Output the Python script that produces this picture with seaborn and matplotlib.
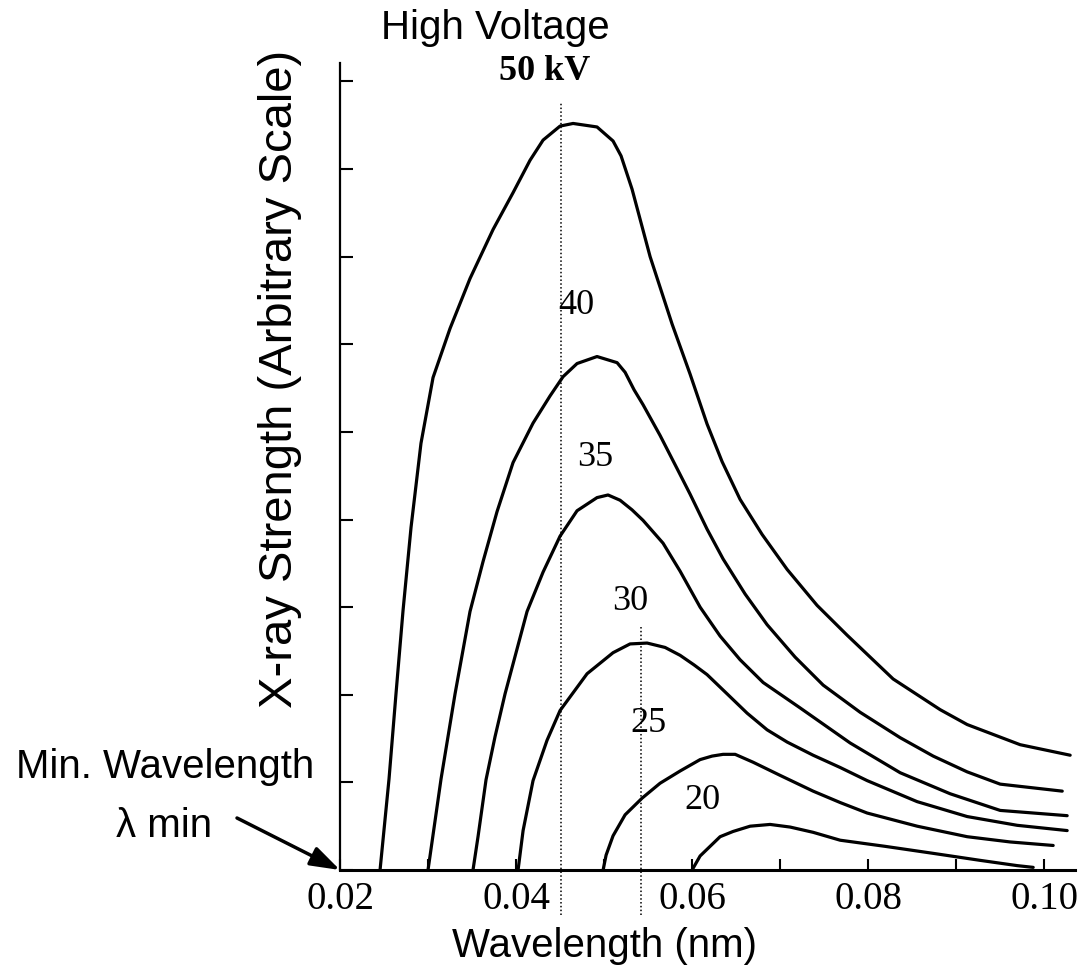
import numpy as np
import pandas as pd
import seaborn as sns
import matplotlib.pyplot as plt

# wavelength (nm) / intensity (arbitrary units)
wl_50 = [0.02455, 0.02557, 0.02636, 0.02716, 0.02807, 0.02920, 0.03057, 0.03250, 0.03477, 0.03739,
         0.03966, 0.04159, 0.04307, 0.04500, 0.04648, 0.04920, 0.05102, 0.05193, 0.05318, 0.05523,
         0.05773, 0.05977, 0.06170, 0.06341, 0.06545, 0.06795, 0.07080, 0.07420, 0.07761, 0.08284,
         0.08818, 0.09125, 0.09727, 0.10295]
int_50 = [0.00, 1.04, 2.01, 2.96, 3.91, 4.87, 5.62, 6.18, 6.75, 7.31,
          7.73, 8.10, 8.33, 8.49, 8.52, 8.48, 8.32, 8.15, 7.77, 7.00,
          6.23, 5.66, 5.09, 4.66, 4.23, 3.83, 3.43, 3.02, 2.68, 2.18,
          1.83, 1.66, 1.43, 1.31]

wl_40 = [0.03000, 0.03148, 0.03307, 0.03477, 0.03625, 0.03784, 0.03966, 0.04193, 0.04386, 0.04534,
         0.04693, 0.04920, 0.05148, 0.05239, 0.05341, 0.05443, 0.05636, 0.05830, 0.05977, 0.06170,
         0.06352, 0.06602, 0.06852, 0.07170, 0.07489, 0.07909, 0.08364, 0.08739, 0.09125, 0.09500,
         0.10205]
int_40 = [0.00, 1.04, 2.01, 2.95, 3.52, 4.09, 4.65, 5.10, 5.41, 5.63,
          5.78, 5.86, 5.79, 5.68, 5.48, 5.31, 4.96, 4.58, 4.29, 3.89,
          3.55, 3.15, 2.80, 2.43, 2.11, 1.80, 1.51, 1.30, 1.12, 0.98,
          0.90]

wl_35 = [0.03511, 0.03568, 0.03659, 0.03761, 0.03875, 0.04125, 0.04307, 0.04500, 0.04693, 0.04920,
         0.05045, 0.05182, 0.05318, 0.05443, 0.05670, 0.05864, 0.06091, 0.06318, 0.06545, 0.06807,
         0.07227, 0.07795, 0.08364, 0.08932, 0.09500, 0.10261]
int_35 = [0.00, 0.38, 1.03, 1.52, 2.01, 2.95, 3.40, 3.81, 4.10, 4.25,
          4.28, 4.22, 4.11, 3.99, 3.73, 3.41, 3.00, 2.67, 2.40, 2.14,
          1.85, 1.45, 1.11, 0.87, 0.68, 0.62]

wl_30 = [0.04023, 0.04080, 0.04193, 0.04352, 0.04500, 0.04807, 0.05102, 0.05295, 0.05489, 0.05693,
         0.05864, 0.06023, 0.06170, 0.06398, 0.06625, 0.06852, 0.07080, 0.07375, 0.07682, 0.07989,
         0.08557, 0.09125, 0.09693, 0.10261]
int_30 = [0.00, 0.45, 1.02, 1.48, 1.82, 2.24, 2.48, 2.58, 2.59, 2.54,
          2.45, 2.34, 2.23, 2.01, 1.79, 1.60, 1.46, 1.31, 1.17, 1.02,
          0.78, 0.61, 0.51, 0.45]

wl_25 = [0.04989, 0.05023, 0.05102, 0.05239, 0.05432, 0.05636, 0.05864, 0.06091, 0.06227, 0.06352,
         0.06489, 0.06693, 0.07000, 0.07375, 0.07682, 0.07989, 0.08557, 0.09125, 0.09614, 0.10102]
int_25 = [0.00, 0.17, 0.39, 0.63, 0.82, 0.99, 1.13, 1.26, 1.30, 1.32,
          1.32, 1.23, 1.08, 0.90, 0.77, 0.65, 0.50, 0.38, 0.32, 0.28]

wl_20 = [0.06000, 0.06091, 0.06318, 0.06466, 0.06659, 0.06886, 0.07114, 0.07375, 0.07682, 0.08193,
         0.08739, 0.09273, 0.09693, 0.09875]
int_20 = [0.00, 0.16, 0.38, 0.44, 0.50, 0.52, 0.49, 0.43, 0.34, 0.27,
          0.19, 0.11, 0.05, 0.03]

voltages = [50, 40, 35, 30, 25, 20]
curve_labels = ['50 kV', '40', '35', '30', '25', '20']
x_ticks = [0.02, 0.03, 0.04, 0.05, 0.06, 0.07, 0.08, 0.09, 0.10]
x_ticklabels = ['0.02', '', '0.04', '', '0.06', '', '0.08', '', '0.10']
peak_marks = [0.0451, 0.0542]   # dotted guide lines
peak_tops = [8.76, 2.79]

curves = {50: (wl_50, int_50), 40: (wl_40, int_40), 35: (wl_35, int_35),
          30: (wl_30, int_30), 25: (wl_25, int_25), 20: (wl_20, int_20)}
df = pd.concat([pd.DataFrame({'kv': kv, 'wl': w, 'intensity': i}) for kv, (w, i) in curves.items()])

sns.set_theme(style='white')
plt.rcParams['font.family'] = ['Liberation Sans', 'DejaVu Sans']
plt.rcParams['text.color'] = 'black'
plt.rcParams['xtick.color'] = 'black'

W, H = 1083, 965
fig = plt.figure(figsize=(W / 100, H / 100), dpi=100)
ax = fig.add_axes([340 / W, 1 - 870 / H, (1075 - 340) / W, (870 - 63) / H])

sns.lineplot(data=df, x='wl', y='intensity', units='kv', estimator=None, sort=False,
             color='black', lw=2.3, ax=ax, legend=False)
for line in ax.lines:
    line.set_solid_joinstyle('round')
    line.set_solid_capstyle('round')

for xm, top in zip(peak_marks, peak_tops):
    ax.plot([xm, xm], [-0.51, top], color='black', lw=1.1, ls=(0, (1, 1.5)), clip_on=False)

ax.set_xlim(0.02, 0.1035)
ax.set_ylim(0, 9.21)
sns.despine(ax=ax)
ax.spines['left'].set_linewidth(1.6)
ax.spines['bottom'].set_linewidth(2.2)
ax.spines['left'].set_color('black')
ax.spines['bottom'].set_color('black')

ax.set_xticks(x_ticks)
ax.set_xticklabels(x_ticklabels, family='Liberation Serif', fontsize=28)
ax.set_yticks(range(10))
ax.set_yticklabels([])
ax.tick_params(axis='x', direction='in', length=8, width=1.5, color='black', pad=8, bottom=True)
ax.tick_params(axis='y', direction='in', length=9, width=1.5, color='black', left=True)
ax.set_xlabel('')
ax.set_ylabel('')

# curve labels (serif, like the original)
label_pos = [(0.04330, 9.11), (0.04682, 6.44), (0.04898, 4.71), (0.05295, 3.07), (0.05500, 1.67), (0.06114, 0.79)]
for lab, (lx, ly) in zip(curve_labels, label_pos):
    ax.text(lx, ly, lab, family='Liberation Serif', fontsize=26,
            fontweight='bold' if 'kV' in lab else 'normal', ha='center', va='center', clip_on=False)

fig.text(495 / W, 1 - 28 / H, 'High Voltage', fontsize=29, ha='center', va='center')
fig.text(605 / W, 1 - 946 / H, 'Wavelength (nm)', fontsize=29, ha='center', va='center')
fig.text(280 / W, 1 - 379 / H, 'X-ray Strength (Arbitrary Scale)', fontsize=34,
         rotation=90, ha='center', va='center')
fig.text(165 / W, 1 - 767 / H, 'Min. Wavelength', fontsize=29, ha='center', va='center')
fig.text(164 / W, 1 - 826 / H, 'λ min', fontsize=29, ha='center', va='center')

ax.annotate('', xy=(0.02, 0), xycoords='data', xytext=(237, H - 818), textcoords='figure pixels',
            arrowprops=dict(arrowstyle='-|>,head_length=0.9,head_width=0.3', color='black', lw=2.5,
                            mutation_scale=20, shrinkA=0, shrinkB=0))

fig.savefig('out.png', dpi=100)
